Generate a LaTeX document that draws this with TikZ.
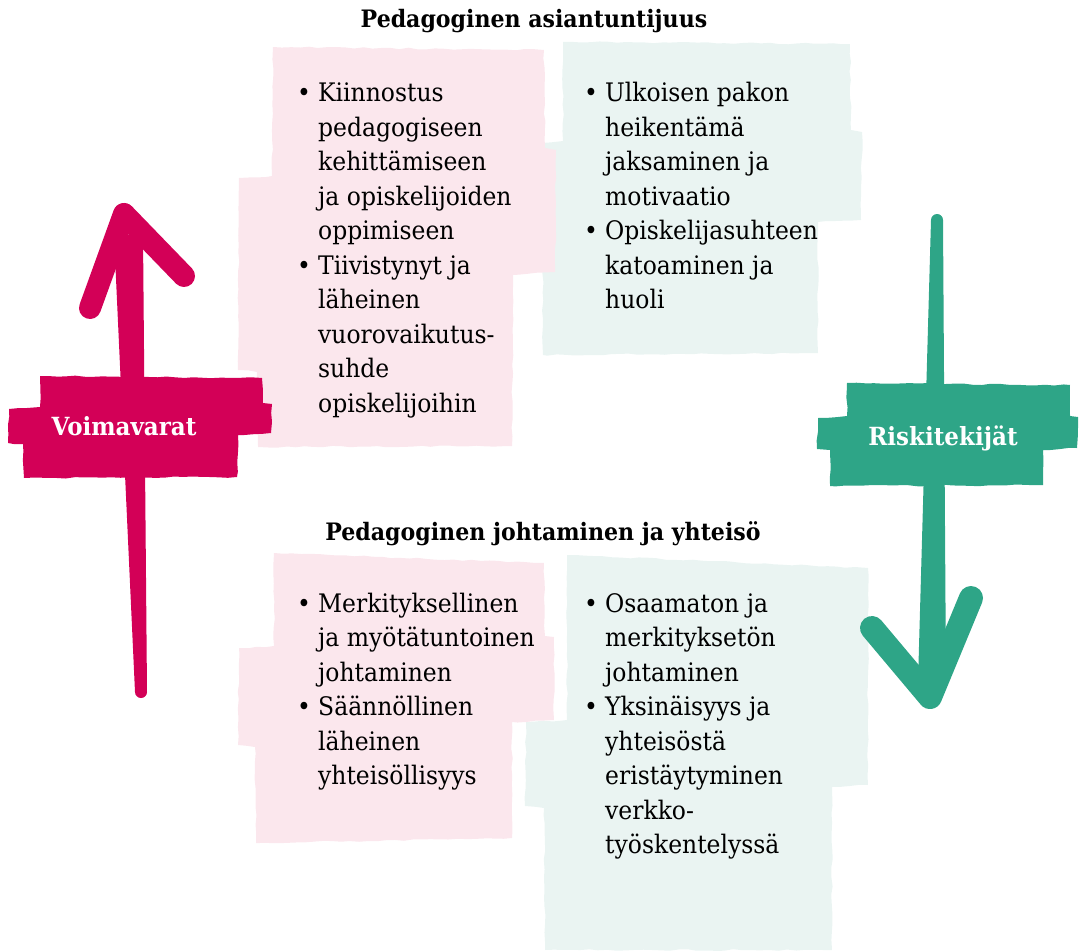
\documentclass[tikz,border=0pt]{standalone}
\usepackage{fontspec}
\setmainfont{DejaVu Serif}[FakeStretch=0.92]
\usetikzlibrary{decorations.pathmorphing}
\definecolor{rosa}{HTML}{FBE7ED}
\definecolor{minttu}{HTML}{EAF4F2}
\definecolor{puna}{HTML}{D30057}
\definecolor{vihrea}{HTML}{2EA587}
\newcommand{\bl}{\makebox[21pt][l]{\textbullet}}

\begin{document}
\begin{tikzpicture}[x=1pt, y=-1pt,
    rough/.style={decorate, decoration={random steps, segment length=9pt, amplitude=0.8pt}},
    lista/.style={anchor=base west, inner sep=0pt, font=\fontsize{25.5}{34.5}\selectfont},
    otsikko/.style={anchor=base, inner sep=0pt, font=\fontsize{24}{30}\selectfont\bfseries},
    nauha/.style={inner sep=0pt, text=white, font=\fontsize{25}{30}\selectfont\bfseries}]
\pgfmathsetseed{7}
\useasboundingbox (0,0) rectangle (1089,952);

% taustat
\fill[minttu, rough] (563,42) -- (850,44) -- (851,130) -- (862,132) -- (861,220) -- (818,222) -- (818,353) -- (543,355) -- (542,143) -- (563,141) -- cycle;
\fill[rosa, rough] (273,47) -- (544,50) -- (545,148) -- (556,150) -- (555,272) -- (513,275) -- (512,446) -- (258,447) -- (257,372) -- (238,370) -- (239,178) -- (272,176) -- cycle;
\fill[minttu, rough] (567,555) -- (868,568) -- (868,785) -- (832,787) -- (832,950) -- (545,950) -- (544,808) -- (525,806) -- (526,722) -- (567,720) -- cycle;
\fill[rosa, rough] (274,553) -- (544,563) -- (545,636) -- (554,637) -- (554,720) -- (512,722) -- (512,838) -- (256,843) -- (255,747) -- (238,745) -- (239,648) -- (274,646) -- cycle;

% nuolet
\fill[puna] (114,235) -- (143,235) -- (147,692) arc[start angle=0, end angle=180, radius=6] -- cycle;
\draw[puna, line width=22pt, line cap=round, line join=round] (90,308) -- (124,214) -- (184,276);
\fill[vihrea] (931,220) arc[start angle=180, end angle=360, radius=6] -- (946,682) -- (918,682) -- cycle;
\draw[vihrea, line width=24pt, line cap=round, line join=round] (872,628) -- (930,697) -- (971,598);

% nauhat
\fill[puna, rough] (40,376) -- (262,378) -- (263,403) -- (272,404) -- (271,433) -- (238,435) -- (237,477) -- (24,478) -- (23,444) -- (8,443) -- (9,409) -- (40,407) -- cycle;
\fill[vihrea, rough] (847,383) -- (1070,385) -- (1070,416) -- (1078,417) -- (1077,448) -- (1043,450) -- (1043,485) -- (830,486) -- (830,450) -- (817,449) -- (818,418) -- (847,416) -- cycle;
\node[nauha] (voimavarat) at (124,426) {Voimavarat};
\node[nauha] (riskit) at (943,438) {Riskitekijät};

% otsikot
\node[otsikko] (asiantuntijuus) at (534,28) {Pedagoginen asiantuntijuus};
\node[otsikko] (johtaminen) at (543,540) {Pedagoginen johtaminen ja yhteisö};

% listat
\node[lista] (voimaYla) at (297,102) {\begin{tabular}[t]{@{}l@{}l@{}}
\bl & Kiinnostus\\
    & pedagogiseen\\
    & kehittämiseen\\
    & ja opiskelijoiden\\
    & oppimiseen\\
\bl & Tiivistynyt ja\\
    & läheinen\\
    & vuorovaikutus-\\
    & suhde\\
    & opiskelijoihin
\end{tabular}};
\node[lista] (riskiYla) at (584,102) {\begin{tabular}[t]{@{}l@{}l@{}}
\bl & Ulkoisen pakon\\
    & heikentämä\\
    & jaksaminen ja\\
    & motivaatio\\
\bl & Opiskelijasuhteen\\
    & katoaminen ja\\
    & huoli
\end{tabular}};
\node[lista] (voimaAla) at (297,612) {\begin{tabular}[t]{@{}l@{}l@{}}
\bl & Merkityksellinen\\
    & ja myötätuntoinen\\
    & johtaminen\\
\bl & Säännöllinen\\
    & läheinen\\
    & yhteisöllisyys
\end{tabular}};
\node[lista] (riskiAla) at (584,612) {\begin{tabular}[t]{@{}l@{}l@{}}
\bl & Osaamaton ja\\
    & merkityksetön\\
    & johtaminen\\
\bl & Yksinäisyys ja\\
    & yhteisöstä\\
    & eristäytyminen\\
    & verkko-\\
    & työskentelyssä
\end{tabular}};

\end{tikzpicture}
\end{document}
